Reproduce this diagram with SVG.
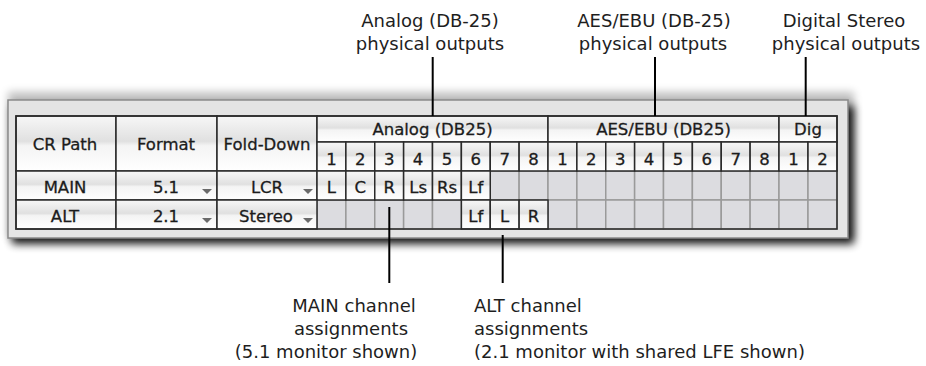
<svg xmlns="http://www.w3.org/2000/svg" width="926" height="366" viewBox="0 0 926 366">
<defs>
<linearGradient id="gloss" x1="0" y1="0" x2="0" y2="1">
<stop offset="0" stop-color="#f7f7f7"/>
<stop offset="0.46" stop-color="#e0e0e0"/>
<stop offset="0.54" stop-color="#f4f4f4"/>
<stop offset="1" stop-color="#ffffff"/>
</linearGradient>
<filter id="shadow" x="-5%" y="-30%" width="112%" height="170%">
<feGaussianBlur stdDeviation="4"/>
</filter>
</defs>
<style>
.lbl{font-family:"DejaVu Sans","Liberation Sans",sans-serif;font-size:18px;fill:#1e1e1e}
.mid{text-anchor:middle}
.t{font-family:"DejaVu Sans","Liberation Sans",sans-serif;font-size:16.5px;fill:#1c1c1c;stroke:#1c1c1c;stroke-width:0.3;text-anchor:middle}
.w{fill:url(#gloss);stroke:#2a2a2a;stroke-width:1.5}
.g{fill:#dcdce0;stroke:#9a9a9a;stroke-width:1.5}
.arr{fill:#6a6a6a}
.lead{stroke:#000;stroke-width:2;fill:none}
</style>
<rect width="926" height="366" fill="#ffffff"/>

<g id="panel">
<rect x="8" y="92" width="846" height="146" fill="#000" opacity="0.25" filter="url(#shadow)"/>
<rect x="12" y="106" width="842" height="138" fill="#000" opacity="0.9" filter="url(#shadow)"/>
<rect x="8" y="100" width="840" height="138" fill="#e4e4e4" stroke="#8a8a8a" stroke-width="1.5"/>
</g>

<g id="table">
<rect x="317" y="171" width="520" height="58" fill="#dcdce0"/>
<g id="grid-empty">
<rect class="g" x="490.25" y="171" width="28.875" height="29"/>
<rect class="g" x="519.125" y="171" width="28.875" height="29"/>
<rect class="g" x="317" y="200" width="28.875" height="29"/>
<rect class="g" x="345.875" y="200" width="28.875" height="29"/>
<rect class="g" x="374.75" y="200" width="28.875" height="29"/>
<rect class="g" x="403.625" y="200" width="28.875" height="29"/>
<rect class="g" x="432.5" y="200" width="28.875" height="29"/>
<rect class="g" x="548" y="171" width="28.875" height="29"/>
<rect class="g" x="576.875" y="171" width="28.875" height="29"/>
<rect class="g" x="605.75" y="171" width="28.875" height="29"/>
<rect class="g" x="634.625" y="171" width="28.875" height="29"/>
<rect class="g" x="663.5" y="171" width="28.875" height="29"/>
<rect class="g" x="692.375" y="171" width="28.875" height="29"/>
<rect class="g" x="721.25" y="171" width="28.875" height="29"/>
<rect class="g" x="750.125" y="171" width="28.875" height="29"/>
<rect class="g" x="779" y="171" width="29" height="29"/>
<rect class="g" x="808" y="171" width="29" height="29"/>
<rect class="g" x="548" y="200" width="28.875" height="29"/>
<rect class="g" x="576.875" y="200" width="28.875" height="29"/>
<rect class="g" x="605.75" y="200" width="28.875" height="29"/>
<rect class="g" x="634.625" y="200" width="28.875" height="29"/>
<rect class="g" x="663.5" y="200" width="28.875" height="29"/>
<rect class="g" x="692.375" y="200" width="28.875" height="29"/>
<rect class="g" x="721.25" y="200" width="28.875" height="29"/>
<rect class="g" x="750.125" y="200" width="28.875" height="29"/>
<rect class="g" x="779" y="200" width="29" height="29"/>
<rect class="g" x="808" y="200" width="29" height="29"/>
</g>

<g id="header">
<rect class="w" x="16" y="116" width="100" height="55"/>
<rect class="w" x="116" y="116" width="101" height="55"/>
<rect class="w" x="217" y="116" width="100" height="55"/>
<rect class="w" x="317" y="116" width="231" height="26"/>
<rect class="w" x="548" y="116" width="231" height="26"/>
<rect class="w" x="779" y="116" width="58" height="26"/>
<rect class="w" x="317" y="142" width="28.875" height="29"/>
<rect class="w" x="345.875" y="142" width="28.875" height="29"/>
<rect class="w" x="374.75" y="142" width="28.875" height="29"/>
<rect class="w" x="403.625" y="142" width="28.875" height="29"/>
<rect class="w" x="432.5" y="142" width="28.875" height="29"/>
<rect class="w" x="461.375" y="142" width="28.875" height="29"/>
<rect class="w" x="490.25" y="142" width="28.875" height="29"/>
<rect class="w" x="519.125" y="142" width="28.875" height="29"/>
<rect class="w" x="548" y="142" width="28.875" height="29"/>
<rect class="w" x="576.875" y="142" width="28.875" height="29"/>
<rect class="w" x="605.75" y="142" width="28.875" height="29"/>
<rect class="w" x="634.625" y="142" width="28.875" height="29"/>
<rect class="w" x="663.5" y="142" width="28.875" height="29"/>
<rect class="w" x="692.375" y="142" width="28.875" height="29"/>
<rect class="w" x="721.25" y="142" width="28.875" height="29"/>
<rect class="w" x="750.125" y="142" width="28.875" height="29"/>
<rect class="w" x="779" y="142" width="29" height="29"/>
<rect class="w" x="808" y="142" width="29" height="29"/>
<text class="t" x="65" y="150">CR Path</text>
<text class="t" x="166" y="150">Format</text>
<text class="t" x="267" y="150">Fold-Down</text>
<text class="t" x="432.5" y="135">Analog (DB25)</text>
<text class="t" x="663.5" y="135">AES/EBU (DB25)</text>
<text class="t" x="808" y="135">Dig</text>
<text class="t" x="331.4" y="165">1</text>
<text class="t" x="360.3" y="165">2</text>
<text class="t" x="389.2" y="165">3</text>
<text class="t" x="418.1" y="165">4</text>
<text class="t" x="447" y="165">5</text>
<text class="t" x="475.8" y="165">6</text>
<text class="t" x="504.7" y="165">7</text>
<text class="t" x="533.6" y="165">8</text>
<text class="t" x="562.4" y="165">1</text>
<text class="t" x="591.3" y="165">2</text>
<text class="t" x="620.2" y="165">3</text>
<text class="t" x="649.1" y="165">4</text>
<text class="t" x="678" y="165">5</text>
<text class="t" x="706.8" y="165">6</text>
<text class="t" x="735.7" y="165">7</text>
<text class="t" x="764.6" y="165">8</text>
<text class="t" x="793.5" y="165">1</text>
<text class="t" x="822.5" y="165">2</text>
</g>

<g id="row-main">
<rect class="w" x="16" y="171" width="100" height="29"/>
<rect class="w" x="116" y="171" width="101" height="29"/>
<rect class="w" x="217" y="171" width="100" height="29"/>
<rect class="w" x="317" y="171" width="28.875" height="29"/>
<rect class="w" x="345.875" y="171" width="28.875" height="29"/>
<rect class="w" x="374.75" y="171" width="28.875" height="29"/>
<rect class="w" x="403.625" y="171" width="28.875" height="29"/>
<rect class="w" x="432.5" y="171" width="28.875" height="29"/>
<rect class="w" x="461.375" y="171" width="28.875" height="29"/>
<text class="t" x="65" y="193">MAIN</text>
<text class="t" x="166" y="193">5.1</text>
<text class="t" x="267" y="193">LCR</text>
<polygon class="arr" points="202,189 212,189 207,194"/>
<polygon class="arr" points="303,189 313,189 308,194"/>
<text class="t" x="331.4" y="193">L</text>
<text class="t" x="360.3" y="193">C</text>
<text class="t" x="389.2" y="193">R</text>
<text class="t" x="418.1" y="193">Ls</text>
<text class="t" x="447" y="193">Rs</text>
<text class="t" x="475.8" y="193">Lf</text>
</g>

<g id="row-alt">
<rect class="w" x="16" y="200" width="100" height="29"/>
<rect class="w" x="116" y="200" width="101" height="29"/>
<rect class="w" x="217" y="200" width="100" height="29"/>
<rect class="w" x="461.375" y="200" width="28.875" height="29"/>
<rect class="w" x="490.25" y="200" width="28.875" height="29"/>
<rect class="w" x="519.125" y="200" width="28.875" height="29"/>
<text class="t" x="65" y="222">ALT</text>
<text class="t" x="166" y="222">2.1</text>
<text class="t" x="266" y="222">Stereo</text>
<polygon class="arr" points="202,218 212,218 207,223"/>
<polygon class="arr" points="303,218 313,218 308,223"/>
<text class="t" x="475.8" y="222">Lf</text>
<text class="t" x="504.7" y="222">L</text>
<text class="t" x="533.6" y="222">R</text>
</g>
<rect x="16" y="116" width="821" height="113" fill="none" stroke="#2a2a2a" stroke-width="1.5"/>
</g>

<g id="label-analog">
<text class="lbl mid" x="430" y="27">Analog (DB-25)</text>
<text class="lbl mid" x="430" y="50">physical outputs</text>
</g>
<g id="label-aes">
<text class="lbl mid" x="654" y="27">AES/EBU (DB-25)</text>
<text class="lbl mid" x="653" y="50">physical outputs</text>
</g>
<g id="label-dig">
<text class="lbl mid" x="844" y="27">Digital Stereo</text>
<text class="lbl mid" x="846" y="50">physical outputs</text>
</g>
<g id="label-main">
<text class="lbl mid" x="354" y="312">MAIN channel</text>
<text class="lbl mid" x="351" y="335">assignments</text>
<text class="lbl mid" x="326" y="358">(5.1 monitor shown)</text>
</g>
<g id="label-alt">
<text class="lbl" x="474" y="312">ALT channel</text>
<text class="lbl" x="474" y="335">assignments</text>
<text class="lbl" x="474" y="358">(2.1 monitor with shared LFE shown)</text>
</g>

<g id="connectors">
<line class="lead" x1="432.7" y1="57" x2="432.7" y2="116"/>
<line class="lead" x1="655" y1="57" x2="655" y2="116"/>
<line class="lead" x1="805.7" y1="57" x2="805.7" y2="116"/>
<line class="lead" x1="389.3" y1="207" x2="389.3" y2="283"/>
<line class="lead" x1="502.7" y1="235" x2="502.7" y2="283" stroke-width="1.3"/>
</g>
</svg>
